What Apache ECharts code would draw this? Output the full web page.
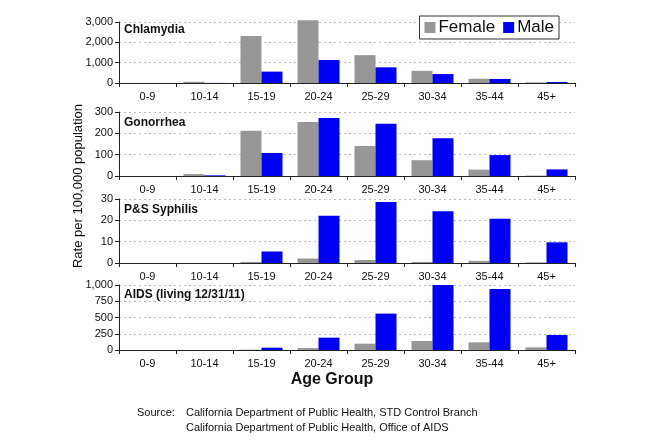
<!DOCTYPE html>
<html><head><meta charset="utf-8">
<script src="https://cdn.jsdelivr.net/npm/echarts@6/dist/echarts.min.js"></script>
<style>html,body{margin:0;padding:0;background:#fff}#c{width:664px;height:442px}</style>
</head><body><div id="c"></div>
<script>
const ageGroups = ['0-9','10-14','15-19','20-24','25-29','30-34','35-44','45+'];
const panelNames = ['Chlamydia','Gonorrhea','P&S Syphilis','AIDS (living 12/31/11)'];
const chlamydiaFemale = [0, 60, 2310, 3080, 1370, 600, 210, 30];
const chlamydiaMale   = [0, 5, 560, 1130, 770, 440, 200, 50];
const gonorrheaFemale = [0, 9, 212, 253, 141, 74, 30, 2];
const gonorrheaMale   = [0, 3, 108, 272, 245, 177, 98, 31];
const syphilisFemale  = [0, 0, 0.5, 2.1, 1.4, 0.5, 1, 0.3];
const syphilisMale    = [0, 0, 5.4, 22.1, 28.6, 24.2, 20.7, 9.7];
const aidsFemale      = [0, 0, 5, 30, 97, 139, 118, 41];
const aidsMale        = [0, 0, 36, 190, 560, 1000, 940, 231];
const yMax = [3000, 300, 30, 1000];
const yInterval = [1000, 100, 10, 250];

const femaleSets = [chlamydiaFemale, gonorrheaFemale, syphilisFemale, aidsFemale];
const maleSets = [chlamydiaMale, gonorrheaMale, syphilisMale, aidsMale];
const gridTops = [22, 112, 199, 285];
const gridHeights = [61, 64, 64, 65];
const titleOffsets = [2, 5, 5, 4];
const FONT = 'Liberation Sans, Arial, sans-serif';

const grids = [], xAxes = [], yAxes = [], series = [], titles = [];
for (let i = 0; i < 4; i++) {
  grids.push({left: 119, width: 456, top: gridTops[i], height: gridHeights[i]});
  xAxes.push({
    type: 'category', gridIndex: i, data: ageGroups,
    axisLine: {lineStyle: {color: '#222', width: 1}},
    axisTick: {show: true, length: 4, lineStyle: {color: '#222'}},
    axisLabel: {color: '#111', fontSize: 11, fontFamily: FONT, margin: 8}
  });
  yAxes.push({
    type: 'value', gridIndex: i, min: 0, max: yMax[i], interval: yInterval[i],
    axisLine: {show: true, lineStyle: {color: '#222'}},
    axisTick: {show: true, length: 4, lineStyle: {color: '#222'}},
    axisLabel: {color: '#111', fontSize: 11, fontFamily: FONT, margin: 6,
      formatter: v => v.toLocaleString('en-US')},
    splitLine: {show: true, lineStyle: {color: '#bbb', type: [2, 3], width: 1}}
  });
  series.push({
    name: 'Female', type: 'bar', xAxisIndex: i, yAxisIndex: i, data: femaleSets[i],
    barWidth: 21, barGap: '0%', clip: false,
    itemStyle: {color: '#979797'}
  });
  series.push({
    name: 'Male', type: 'bar', xAxisIndex: i, yAxisIndex: i, data: maleSets[i],
    barWidth: 21, barGap: '0%', clip: false,
    itemStyle: {color: '#0000f5'}
  });
  titles.push({
    text: panelNames[i], left: 124, top: gridTops[i] + titleOffsets[i], padding: 0,
    textStyle: {fontSize: 12, fontWeight: 'bold', color: '#111', fontFamily: FONT}
  });
}
titles.push({
  text: 'Age Group', left: 'center', top: 372, padding: 0,
  textStyle: {fontSize: 16, fontWeight: 'bold', color: '#111', fontFamily: FONT}
});

const chart = echarts.init(document.getElementById('c'));
chart.setOption({
  animation: false,
  backgroundColor: '#fff',
  title: titles,
  legend: {
    data: ['Female', 'Male'], right: 105, top: 16,
    itemWidth: 11, itemHeight: 11, itemGap: 8,
    borderColor: '#333', borderWidth: 1, padding: [3, 5, 3, 5],
    backgroundColor: '#fff',
    icon: 'rect',
    textStyle: {fontSize: 17, color: '#111', fontFamily: FONT, padding: [0, 0, 0, -2]}
  },
  grid: grids, xAxis: xAxes, yAxis: yAxes, series: series,
  graphic: [
    {type: 'text', x: 78, y: 186, rotation: Math.PI / 2, originX: 0, originY: 0,
      style: {text: 'Rate per 100,000 population', fontSize: 13, fontFamily: FONT, fill: '#111',
        align: 'center', verticalAlign: 'middle'}},
    {type: 'text', x: 137, y: 407,
      style: {text: 'Source:', fontSize: 11, fontFamily: FONT, fill: '#111'}},
    {type: 'text', x: 186, y: 407,
      style: {text: 'California Department of Public Health, STD Control Branch', fontSize: 11, fontFamily: FONT, fill: '#111'}},
    {type: 'text', x: 186, y: 422,
      style: {text: 'California Department of Public Health, Office of AIDS', fontSize: 11, fontFamily: FONT, fill: '#111'}}
  ]
});
</script></body></html>
